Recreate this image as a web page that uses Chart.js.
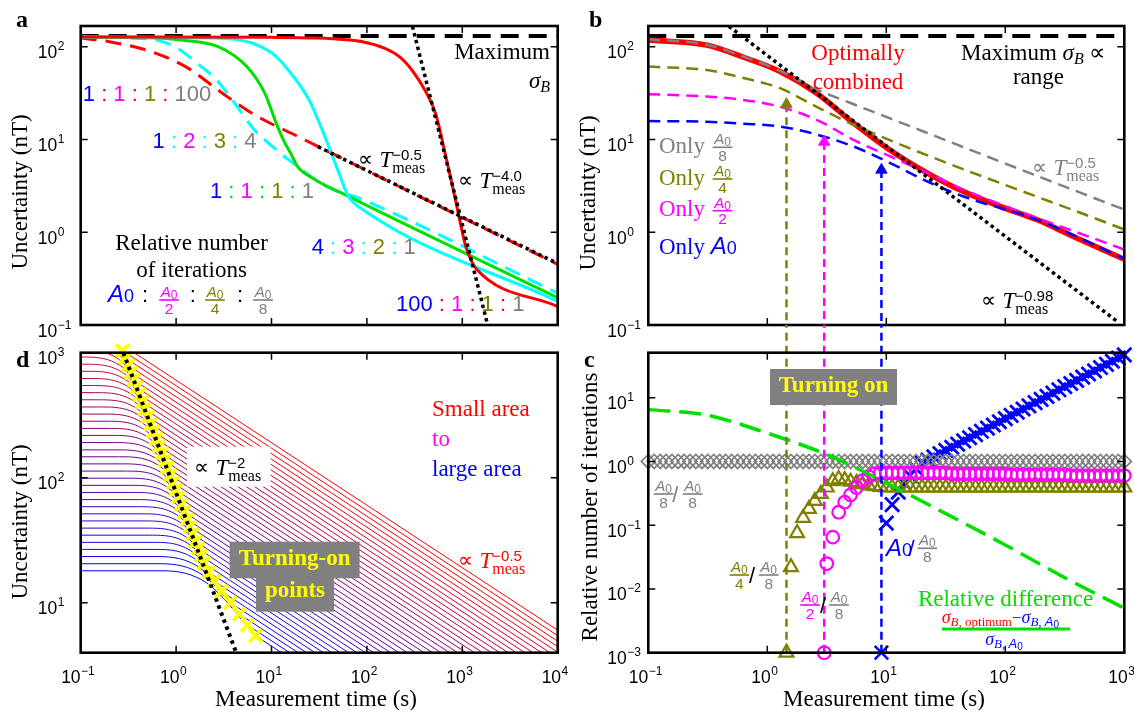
<!DOCTYPE html>
<html><head><meta charset="utf-8">
<script src="https://cdn.jsdelivr.net/npm/chart.js@4.4.1/dist/chart.umd.min.js"></script>
<style>
html,body{margin:0;padding:0;background:#fff;}
#wrap{position:relative;width:1134px;height:710px;overflow:hidden;background:#fff;}
canvas{position:absolute;left:0;top:0;}
</style></head><body>
<div id="wrap">
<canvas id="ca" width="1134" height="710"></canvas>
<canvas id="cb" width="1134" height="710"></canvas>
<canvas id="cd" width="1134" height="710"></canvas>
<canvas id="cc" width="1134" height="710"></canvas>
</div>
<script>
// ===================== DATA =====================
const xTicks5 = [0.1, 1, 10, 100, 1000, 10000];
const xTicks5Exp = ['−1','0','1','2','3','4'];
const xTicks4 = [0.1, 1, 10, 100, 1000];
const xTicks4Exp = ['−1','0','1','2','3'];
const uncYTicks = [0.1, 1, 10, 100];
const uncYExp = ['−1','0','1','2'];
const dYTicks = [10, 100, 1000];
const dYExp = ['1','2','3'];
const cYTicks = [0.001, 0.01, 0.1, 1, 10];
const cYExp = ['−3','−2','−1','0','1'];

// panel a
const aMaxT = [0.1, 10000];
const aMaxU = [130, 130];
const aRedT = [0.1, 10, 30, 60, 90, 150, 219, 300, 405, 525, 685, 851, 972, 1080, 1236, 1380, 10000];
const aRedU = [127, 126, 124, 119, 113, 97, 78, 55, 34, 19, 6.0, 2.2, 1.15, 0.72, 0.50, 0.41, 0.158];
const aCyanT = [0.1, 1, 2.5, 4.2, 10.2, 15.9, 24.6, 31.8, 39.8, 49.5, 64, 91, 10000];
const aCyanU = [127, 126, 124, 120, 85, 52, 27, 15, 8.4, 4.7, 2.44, 1.75, 0.18];
const aGreenT = [0.1, 0.5, 1.14, 2.76, 5.5, 8.5, 11.2, 13.3, 15.9, 18.8, 26.7, 64, 10000];
const aGreenU = [127, 125, 118, 100, 61, 31.6, 15, 9.9, 7.1, 5.1, 3.85, 2.44, 0.197];
const aCyanDashT = [0.1, 0.3, 0.62, 1.0, 1.77, 2.76, 4.6, 6.6, 8.5, 11.1, 15.9, 38, 91, 10000];
const aCyanDashU = [127, 124, 118, 98, 63, 42, 21, 12.7, 9.9, 7.8, 5.8, 3.1, 2.24, 0.22];
const aRedDashT = [0.1, 0.2, 0.56, 1.36, 2.76, 6.6, 18.8, 10000];
const aRedDashU = [124, 113, 88, 58, 34, 18.5, 10.8, 0.45];
const aDotHalfT = [30.7, 10000];
const aDotHalfU = [8.36, 0.46];
const aDotFourT = [300, 1806];
const aDotFourU = [166, 0.109];

// panel b
const bMaxT = [0.1, 1000];
const bMaxU = [130, 130];
const bOptT = [0.1, 0.31, 0.63, 1.28, 2.6, 5.3, 10.7, 21.8, 44, 90, 183, 372, 1000];
const bOptU = [118, 104, 77, 54, 31.5, 15, 7.7, 4.4, 2.76, 1.9, 1.37, 0.9, 0.51];
const bGrayT = [0.1, 0.31, 0.63, 1.28, 2.3, 5, 10, 100, 1000];
const bGrayU = [120, 105, 78, 55, 37, 24.7, 17.5, 5.5, 1.75];
const bOliveT = [0.1, 0.31, 0.63, 1.28, 2.6, 5.3, 1000];
const bOliveU = [61, 56, 46, 35.7, 22.5, 14.4, 1.07];
const bMagT = [0.1, 0.31, 0.63, 1.28, 2.6, 5.3, 10.7, 21.8, 44, 1000];
const bMagU = [30.8, 29, 26.7, 22.5, 16.3, 9.9, 6.6, 4.37, 2.9, 0.65];
const bBlueT = [0.1, 0.31, 0.63, 1.28, 2.6, 5.3, 10.7, 21.8, 44, 183, 1000];
const bBlueU = [15.8, 15.5, 14.8, 13.8, 11.3, 8.4, 5.6, 3.55, 2.44, 1.37, 0.52];
const bDotT = [0.475, 900];
const bDotU = [166, 0.106];
const turnOnT = [1.45, 3.01, 9.1];
const arrowU = [24, 9.4, 4.7];
const turnOnFloor = [0.1, 0.1, 0.1];

// panel c
const cGridT = [0.1,0.112,0.126,0.141,0.158,0.178,0.2,0.224,0.251,0.282,0.316,0.355,0.398,0.447,0.501,0.562,0.631,0.708,0.794,0.891,
 1,1.12,1.26,1.41,1.58,1.78,2,2.24,2.51,2.82,3.16,3.55,3.98,4.47,5.01,5.62,6.31,7.08,7.94,8.91,
 10,11.2,12.6,14.1,15.8,17.8,20,22.4,25.1,28.2,31.6,35.5,39.8,44.7,50.1,56.2,63.1,70.8,79.4,89.1,
 100,112,126,141,158,178,200,224,251,282,316,355,398,447,501,562,631,708,794,891,1000];
const cGrayU = [1,1,1,1,1,1,1,1,1,1,1,1,1,1,1,1,1,1,1,1, 1,1,1,1,1,1,1,1,1,1,1,1,1,1,1,1,1,1,1,1,
 1,1,1,1,1,1,1,1,1,1,1,1,1,1,1,1,1,1,1,1, 1,1,1,1,1,1,1,1,1,1,1,1,1,1,1,1,1,1,1,1,1];
const cOliveStart = 24;
const cOliveU = [0.022,0.075,0.13,0.18,0.24,0.31,0.39,0.49,0.53,0.51,0.48,0.46,0.44,0.42,0.41,0.40,
 0.39,0.39,0.39,0.39,0.39,0.39,0.39,0.39,0.39,0.39,0.39,0.39,0.39,0.39,0.39,0.39,0.39,0.39,0.39,0.39,
 0.39,0.39,0.39,0.39,0.39,0.39,0.39,0.39,0.39,0.39,0.39,0.39,0.39,0.39,0.39,0.39,0.39,0.39,0.39,0.39,0.39];
const cMagStart = 30;
const cMagU = [0.025,0.065,0.16,0.23,0.30,0.39,0.50,0.58,0.64,0.66,
 0.66,0.66,0.66,0.66,0.66,0.66,0.66,0.66,0.66,0.66,0.66,
 0.64,0.64,0.64,0.64,0.64,0.64,0.64,0.64,0.64,0.64,
 0.62,0.62,0.62,0.62,0.62,0.62,0.62,0.62,0.62,0.62,
 0.60,0.60,0.60,0.60,0.60,0.60,0.60,0.60,0.60,0.60];
const cBlueStart = 40;
const cBlueU = [0.108,0.21,0.33,0.46,0.6,0.77,0.94,1.05,1.18,1.33,1.49,1.67,1.87,2.1,2.35,2.64,2.97,3.33,3.73,4.19,
 4.7,5.27,5.92,6.64,7.45,8.36,9.4,10.5,11.8,13.3,14.9,16.7,18.7,21.0,23.5,26.4,29.7,33.3,37.3,41.9,47];
const cGreenT = [0.1, 0.3, 1, 3.2, 10, 30, 100, 316, 1000];
const cGreenU = [6.5, 5.4, 2.78, 1.27, 0.46, 0.16, 0.049, 0.015, 0.005];
const cFloorU = [0.001, 0.001, 0.001];
const cLineTopU = [140, 140, 140];

// panel d (38 curves, index 0 = largest area / blue, 37 = smallest area / red)
const dPlateauT = 0.06;
const dPlateau = [18.0,20.5,23.4,26.7,30.4,34.7,39.5,45.1,51.4,58.6,66.8,76.2,86.9,99.1,113,129,147,167,191,218,
 248,283,323,368,420,479,546,622,710,809,923,1052,1200,1368,1560,1778,2028,2312];
const dKneeT = [0.730,0.684,0.641,0.600,0.562,0.526,0.493,0.461,0.432,0.405,0.379,0.355,0.332,0.311,0.292,0.273,0.256,0.240,0.224,0.210,
 0.197,0.184,0.172,0.162,0.151,0.142,0.133,0.124,0.116,0.109,0.102,0.0956,0.0894,0.0837,0.0784,0.0735,0.0688,0.0644];
const dMidT = [2.087,1.955,1.830,1.714,1.606,1.503,1.409,1.318,1.235,1.157,1.083,1.014,0.950,0.889,0.833,0.779,0.730,0.685,0.641,0.600,
 0.562,0.526,0.493,0.462,0.432,0.405,0.379,0.355,0.332,0.311,0.291,0.273,0.256,0.239,0.224,0.210,0.197,0.184];
const dMidU = [14.4,16.4,18.7,21.4,24.3,27.8,31.6,36.1,41.1,46.9,53.4,61.0,69.5,79.3,90.4,103,118,134,153,174,
 198,226,258,294,336,383,437,498,568,647,738,842,960,1094,1248,1422,1622,1850];
const dTurnT = [6.8,5.6,4.6,3.7,3.0,2.5,2.2,1.95,1.82,1.70,1.59,1.486,1.389,1.298,1.213,1.134,1.060,0.991,0.926,0.866,
 0.809,0.756,0.707,0.661,0.618,0.577,0.540,0.504,0.471,0.441,0.412,0.385,0.360,0.336,0.314,0.294,0.275,0.257];
const dTurnU = [5.45,6.63,8.1,10.0,12.3,14.9,17.6,20.7,23.7,27.1,31.0,35.5,40.6,46.5,53.2,60.9,69.7,79.8,91.4,105,
 120,137,157,179,205,235,269,308,353,404,462,529,605,693,793,908,1039,1189];
const dEndT = 10000;
const dEndU = [0.142,0.157,0.174,0.192,0.213,0.236,0.261,0.288,0.319,0.353,0.391,0.433,0.479,0.530,0.586,0.649,0.718,0.794,0.879,0.973,
 1.08,1.19,1.32,1.46,1.61,1.79,1.98,2.19,2.42,2.68,2.96,3.28,3.63,4.02,4.45,4.92,5.45,6.03];
const dVisibleTurns = 37;
const dDotT = [0.28, 4.27];
const dDotU = [1000, 3.98];

// ===================== STYLE / HELPERS =====================
const RED='#ff0000', BLUE='#0000ff', MAG='#ff00ff', OLV='#808000', GRY='#808080', CYN='#00ffff', GRN='#00e000', YEL='#ffff00', BLK='#000000';
const SERIF='"Liberation Serif","Times New Roman",serif';
const SANS='"Liberation Sans",Arial,Helvetica,sans-serif';
function F(size, fam, style){ return (style ? style + ' ' : '') + size + 'px ' + fam; }
function R(t, font, color, dy, dx){ return {t:t, font:font, color:color, dy:dy||0, dx:dx||0}; }
function measureRuns(ctx, runs){ let w=0; runs.forEach(r=>{ ctx.font=r.font; w += ctx.measureText(r.t).width + r.dx; }); return w; }
function drawRuns(ctx, runs, x, y, align){
  const w = measureRuns(ctx, runs);
  let cx = align==='center' ? x - w/2 : (align==='right' ? x - w : x);
  ctx.textAlign='left'; ctx.textBaseline='alphabetic';
  runs.forEach(r=>{ ctx.font=r.font; ctx.fillStyle=r.color||BLK; cx += r.dx; ctx.fillText(r.t, cx, y + r.dy); cx += ctx.measureText(r.t).width; });
  return w;
}
function A0(color, s){ return [R('A', F(s, SANS, 'italic'), color), R('0', F(Math.round(s*0.8), SANS), color, s*0.12)]; }
function frac(ctx, cx, barY, color, den, s){
  s = s || 15;
  const num = A0(color, s), dn = [R(den, F(s+0.5, SANS), color)];
  const w = Math.max(measureRuns(ctx, num), measureRuns(ctx, dn)) + 3;
  drawRuns(ctx, num, cx, barY - 3, 'center');
  drawRuns(ctx, dn, cx, barY + 13.5, 'center');
  ctx.fillStyle = color; ctx.fillRect(cx - w/2, barY - 0.8, w, 1.6);
}
function slash(ctx, cx, barY, color){ drawRuns(ctx, [R('/', F(22, SANS), color)], cx, barY + 8, 'center'); }
function powLabel(ctx, x, y, exp, color){
  ctx.fillStyle=color; ctx.textAlign='left'; ctx.textBaseline='alphabetic';
  ctx.font=F(21, SERIF); ctx.fillText('∝', x, y - 1.5);
  ctx.font=F(23, SERIF, 'italic'); const tx = x + 21.5; ctx.fillText('T', tx, y);
  const sx = tx + ctx.measureText('T').width;
  ctx.font=F(15, SANS); ctx.fillText(exp, sx, y - 7.5);
  ctx.font=F(16, SERIF); ctx.fillText('meas', sx, y + 6);
}
function txt(ctx, s, x, y, font, color, align){ drawRuns(ctx, [R(s, font, color)], x, y, align||'left'); }
function vtitle(ctx, s, cx, cy){ ctx.save(); ctx.translate(cx, cy); ctx.rotate(-Math.PI/2); ctx.font=F(23, SERIF); ctx.fillStyle=BLK; ctx.textAlign='center'; ctx.textBaseline='middle'; ctx.fillText(s, 0, 0); ctx.restore(); }
function letter(ctx, s, x, y){ txt(ctx, s, x, y, F(24, SERIF, 'bold'), BLK); }
function sigmaB(color, s){ return [R('σ', F(s, SERIF, 'italic'), color), R('B', F(Math.round(s*0.7), SERIF, 'italic'), color, s*0.18)]; }

function pts(T, U){ const o=[]; T.forEach((t,i)=>{ if (U[i]!=null) o.push({x:t, y:U[i]}); }); return o; }
function lineDS(T, U, color, width, dash, extra){
  return Object.assign({data:pts(T,U), showLine:true, borderColor:color, backgroundColor:color, borderWidth:width,
    borderDash:dash||[], pointRadius:0, pointHoverRadius:0, cubicInterpolationMode:'monotone', fill:false, clip:0}, extra||{});
}
function markDS(T, U, style, color, r, bw){
  return {data:pts(T,U), showLine:false, pointStyle:style, pointRadius:r, pointHoverRadius:r,
    borderColor:color, pointBorderColor:color, pointBorderWidth:bw, borderWidth:bw,
    backgroundColor:'rgba(0,0,0,0)', pointBackgroundColor:'rgba(0,0,0,0)', clip:false};
}
const straight = {cubicInterpolationMode:'default', tension:0};

function panelPlugin(cfg){
  return { id:'panel_'+cfg.name, afterDatasetsDraw(chart){
    const ctx=chart.ctx, A=chart.chartArea, xs=chart.scales.x, ys=chart.scales.y;
    ctx.save();
    ctx.setLineDash([]);
    ctx.strokeStyle=BLK; ctx.lineWidth=1.5; ctx.beginPath();
    cfg.xTicks.forEach(v=>{ const p=xs.getPixelForValue(v); if (p>A.left+2 && p<A.right-2){ ctx.moveTo(p,A.bottom); ctx.lineTo(p,A.bottom-7); ctx.moveTo(p,A.top); ctx.lineTo(p,A.top+7);} });
    cfg.yTicks.forEach(v=>{ const p=ys.getPixelForValue(v); if (p>A.top+2 && p<A.bottom-2){ ctx.moveTo(A.left,p); ctx.lineTo(A.left+7,p); ctx.moveTo(A.right,p); ctx.lineTo(A.right-7,p);} });
    ctx.stroke();
    ctx.lineWidth=2.6; ctx.strokeRect(A.left, A.top, A.right-A.left, A.bottom-A.top);
    ctx.fillStyle=BLK;
    cfg.yTicks.forEach((v,i)=>{ const p=ys.getPixelForValue(v); const xr=A.left-cfg.yGap;
      ctx.font=F(17.5,SANS); ctx.textAlign='right'; ctx.textBaseline='alphabetic'; ctx.fillText('10', xr, p+11.5);
      ctx.font=F(12,SANS); ctx.textAlign='left'; ctx.fillText(cfg.yExp[i], xr+0.5, p+3.5); });
    if (cfg.xExp) cfg.xTicks.forEach((v,i)=>{ const p=xs.getPixelForValue(v)-3;
      ctx.font=F(17.5,SANS); const w1=ctx.measureText('10').width; ctx.font=F(12,SANS); const w2=ctx.measureText(cfg.xExp[i]).width;
      const x0=p-(w1+w2)/2; ctx.textAlign='left'; ctx.textBaseline='alphabetic';
      ctx.font=F(17.5,SANS); ctx.fillText('10', x0, A.bottom+30.5);
      ctx.font=F(12,SANS); ctx.fillText(cfg.xExp[i], x0+w1+0.5, A.bottom+22.5); });
    cfg.draw(ctx, chart);
    ctx.restore();
  }};
}
function make(id, layers, sc, pad, plugin){
  return new Chart(document.getElementById(id), {
    type:'scatter',
    data:{datasets:layers.slice().reverse()},
    options:{responsive:false, animation:false, devicePixelRatio:1, events:[],
      layout:{padding:pad, autoPadding:false},
      scales:{x:{type:'logarithmic', min:sc[0], max:sc[1], display:false}, y:{type:'logarithmic', min:sc[2], max:sc[3], display:false}},
      plugins:{legend:{display:false}, tooltip:{enabled:false}}},
    plugins:[plugin]
  });
}
function ratio(ctx, parts, colon, x, y){
  const f=F(22,SANS), cols=[BLUE,MAG,OLV,GRY], runs=[];
  parts.forEach((p,i)=>{ runs.push(R(p,f,cols[i])); if(i<3) runs.push(R(' : ',f,colon)); });
  drawRuns(ctx, runs, x, y, 'left');
}

// ===================== PANEL A =====================
make('ca', [
  lineDS(aMaxT, aMaxU, BLK, 4, [18,10], straight),
  lineDS(aRedDashT, aRedDashU, RED, 3, [16,9]),
  lineDS(aCyanDashT, aCyanDashU, CYN, 3, [16,9]),
  lineDS(aGreenT, aGreenU, GRN, 3),
  lineDS(aCyanT, aCyanU, CYN, 3),
  lineDS(aRedT, aRedU, RED, 3),
  lineDS(aDotHalfT, aDotHalfU, BLK, 3.5, [3.5,3.5], straight),
  lineDS(aDotFourT, aDotFourU, BLK, 3.5, [3.5,3.5], straight)
], [0.1, 10000, 0.1, 167.1], {left:80.7, right:576.3, top:26, bottom:385},
panelPlugin({name:'a', xTicks:xTicks5, yTicks:uncYTicks, yExp:uncYExp, yGap:23.5, draw:(ctx)=>{
  letter(ctx,'a',16,26.7);
  vtitle(ctx,'Uncertainty (nT)',21,192);
  txt(ctx,'Maximum',550,59,F(23,SERIF),BLK,'right');
  drawRuns(ctx, sigmaB(BLK,23), 550, 88, 'right');
  ratio(ctx,['1','1','1','100'],RED,82.8,101);
  ratio(ctx,['1','2','3','4'],CYN,152.6,147.7);
  ratio(ctx,['1','1','1','1'],GRN,210,197.7);
  ratio(ctx,['4','3','2','1'],CYN,311.7,254.3);
  ratio(ctx,['100','1','1','1'],RED,396,311);
  txt(ctx,'Relative number',191.6,250,F(23,SERIF),BLK,'center');
  txt(ctx,'of iterations',191.6,277,F(23,SERIF),BLK,'center');
  drawRuns(ctx,[R('A',F(24,SANS,'italic'),BLUE),R('0',F(18,SANS),BLUE)],108,302,'left');
  [145,192.7,240].forEach(x=>txt(ctx,':',x,302,F(22,SANS),BLK,'center'));
  frac(ctx,169,300,MAG,'2'); frac(ctx,215,300,OLV,'4'); frac(ctx,263,300,GRY,'8');
  powLabel(ctx,358,167,'−0.5',BLK);
  powLabel(ctx,458,188,'−4.0',BLK);
}}));

// ===================== PANEL B =====================
const bVert = turnOnT.map((t,i)=>lineDS([t,t],[arrowU[i],turnOnFloor[i]],[OLV,MAG,BLUE][i],2.5,[8,5],Object.assign({clip:false},straight)));
const bArrows = markDS(turnOnT, arrowU, 'triangle', BLK, 6.5, 1);
bArrows.pointBackgroundColor=[OLV,MAG,BLUE]; bArrows.pointBorderColor=[OLV,MAG,BLUE];
make('cb', [
  lineDS(bMaxT, bMaxU, BLK, 4, [18,10], straight),
  lineDS(bOptT, bOptU, RED, 5.5),
  lineDS(bGrayT, bGrayU, GRY, 2.5, [12,7]),
  lineDS(bOliveT, bOliveU, OLV, 2.5, [12,7]),
  lineDS(bMagT, bMagU, MAG, 2.5, [12,7]),
  lineDS(bBlueT, bBlueU, BLUE, 2.5, [12,7]),
  lineDS(bDotT, bDotU, BLK, 3.5, [3.5,3.5], straight)
].concat(bVert,[bArrows]), [0.1, 1000, 0.1, 167.1], {left:648.3, right:9.7, top:26, bottom:385},
panelPlugin({name:'b', xTicks:xTicks4, yTicks:uncYTicks, yExp:uncYExp, yGap:21.5, draw:(ctx)=>{
  letter(ctx,'b',589,26.7);
  vtitle(ctx,'Uncertainty (nT)',589,193);
  txt(ctx,'Optimally',858,60,F(23,SERIF),RED,'center');
  txt(ctx,'combined',858,89,F(23,SERIF),RED,'center');
  drawRuns(ctx,[R('Maximum ',F(23,SERIF),BLK)].concat(sigmaB(BLK,23),[R(' ∝',F(23,SERIF),BLK)]),961,60,'left');
  txt(ctx,'range',1038.5,84,F(23,SERIF),BLK,'center');
  [[GRY,'8',147.3],[OLV,'4',179],[MAG,'2',210.7]].forEach(o=>{ txt(ctx,'Only',659,o[2]+5.7,F(23,SERIF),o[0]); frac(ctx,722.5,o[2],o[0],o[1]); });
  drawRuns(ctx,[R('Only ',F(23,SERIF),BLUE),R('A',F(24,SANS,'italic'),BLUE),R('0',F(18,SANS),BLUE)],659,254,'left');
  powLabel(ctx,1032,175,'−0.5',GRY);
  powLabel(ctx,981,308,'−0.98',BLK);
}}));

// ===================== PANEL D =====================
const dLayers = [];
dPlateau.forEach((P,i)=>{
  const t=i/(dPlateau.length-1);
  const col='rgb('+Math.round(255*t)+',0,'+Math.round(255*(1-t))+')';
  dLayers.push(lineDS([dPlateauT, dKneeT[i], dMidT[i], dTurnT[i]], [P, P, dMidU[i], dTurnU[i]], col, 1));
  dLayers.push(lineDS([dTurnT[i], dEndT], [dTurnU[i], dEndU[i]], col, 1, [], straight));
});
dLayers.push(markDS(dTurnT.slice(0,dVisibleTurns), dTurnU.slice(0,dVisibleTurns), 'crossRot', YEL, 9, 3.5));
dLayers.push(lineDS(dDotT, dDotU, BLK, 4, [3.5,4], straight));
make('cd', dLayers, [0.1, 10000, 3.981, 1000], {left:80.7, right:576.3, top:352.7, bottom:57.3},
panelPlugin({name:'d', xTicks:xTicks5, xExp:xTicks5Exp, yTicks:dYTicks, yExp:dYExp, yGap:23.5, draw:(ctx)=>{
  letter(ctx,'d',16,366.7);
  vtitle(ctx,'Uncertainty (nT)',21,522);
  txt(ctx,'Measurement time (s)',316,706,F(23,SERIF),BLK,'center');
  txt(ctx,'Small area',432,416,F(23,SERIF),RED);
  txt(ctx,'to',432,446,F(23,SERIF),MAG);
  txt(ctx,'large area',432,476,F(23,SERIF),BLUE);
  ctx.fillStyle='#ffffff'; ctx.fillRect(187,446.7,83.6,40);
  powLabel(ctx,194,475,'−2',BLK);
  ctx.fillStyle=GRY; ctx.fillRect(229.6,541.7,130,36.6); ctx.fillRect(256,578,78,33.7);
  txt(ctx,'Turning-on',294.6,565,F(23,SERIF,'bold'),YEL,'center');
  txt(ctx,'points',295,597,F(23,SERIF,'bold'),YEL,'center');
  powLabel(ctx,458,568,'−0.5',RED);
}}));

// ===================== PANEL C =====================
const cVert = turnOnT.map((t,i)=>lineDS([t,t],[cFloorU[i],cLineTopU[i]],[OLV,MAG,BLUE][i],2.5,[8,5],Object.assign({clip:false},straight)));
const cFloorMarks = markDS(turnOnT, cFloorU, 'triangle', BLK, 8, 2.2);
cFloorMarks.pointStyle=['triangle','circle','crossRot']; cFloorMarks.pointRadius=[8,6.3,9.5];
cFloorMarks.pointBorderColor=[OLV,MAG,BLUE]; cFloorMarks.pointBorderWidth=[2.2,2.2,2.5];
make('cc', [
  markDS(cGridT.slice(cBlueStart), cBlueU, 'crossRot', BLUE, 10, 2.8),
  markDS(cGridT, cGrayU, 'rectRot', GRY, 7, 1.7),
  markDS(cGridT.slice(cOliveStart), cOliveU, 'triangle', OLV, 8, 2.2),
  markDS(cGridT.slice(cMagStart), cMagU, 'circle', MAG, 6.3, 2.2),
  lineDS(cGreenT, cGreenU, GRN, 3.5, [22,9])
].concat(cVert,[cFloorMarks]), [0.1, 1000, 0.001, 50.8], {left:648.3, right:9.7, top:352.7, bottom:57.3},
panelPlugin({name:'c', xTicks:xTicks4, xExp:xTicks4Exp, yTicks:cYTicks, yExp:cYExp, yGap:21.5, draw:(ctx)=>{
  letter(ctx,'c',584,366.7);
  vtitle(ctx,'Relative number of iterations',591,507);
  txt(ctx,'Measurement time (s)',884,706,F(23,SERIF),BLK,'center');
  ctx.fillStyle=GRY; ctx.fillRect(770,369,127,36);
  txt(ctx,'Turning on',833.5,392,F(23,SERIF,'bold'),YEL,'center');
  frac(ctx,663.6,494,GRY,'8'); slash(ctx,675.3,494,GRY); frac(ctx,692.6,494,GRY,'8');
  frac(ctx,739.4,575,OLV,'4'); slash(ctx,752,575,BLK); frac(ctx,768.7,575,GRY,'8');
  frac(ctx,810,605,MAG,'2'); slash(ctx,823,605,BLK); frac(ctx,839,605,GRY,'8');
  drawRuns(ctx,[R('A',F(24,SANS,'italic'),BLUE),R('0',F(18,SANS),BLUE)],886,556,'left');
  slash(ctx,911.5,548.3,BLUE); frac(ctx,927.3,548.3,GRY,'8');
  txt(ctx,'Relative difference',1005.5,606,F(23,SERIF),GRN,'center');
  drawRuns(ctx,[R('σ',F(18,SERIF,'italic'),RED),R('B,',F(13,SERIF,'italic'),RED,3),R(' optimum',F(13,SERIF),RED,3),
    R('−',F(17,SERIF),BLUE),R('σ',F(18,SERIF,'italic'),BLUE),R('B, ',F(13,SERIF,'italic'),BLUE,3),
    R('A',F(13,SANS,'italic'),BLUE,3),R('0',F(10,SANS),BLUE,5)],941.7,623,'left');
  ctx.fillStyle=GRN; ctx.fillRect(942,627.5,128,3);
  drawRuns(ctx,[R('σ',F(18,SERIF,'italic'),BLUE),R('B, ',F(13,SERIF,'italic'),BLUE,3),R('A',F(13,SANS,'italic'),BLUE,3),R('0',F(10,SANS),BLUE,5)],1004,645,'center');
}}));
</script>
</body></html>
